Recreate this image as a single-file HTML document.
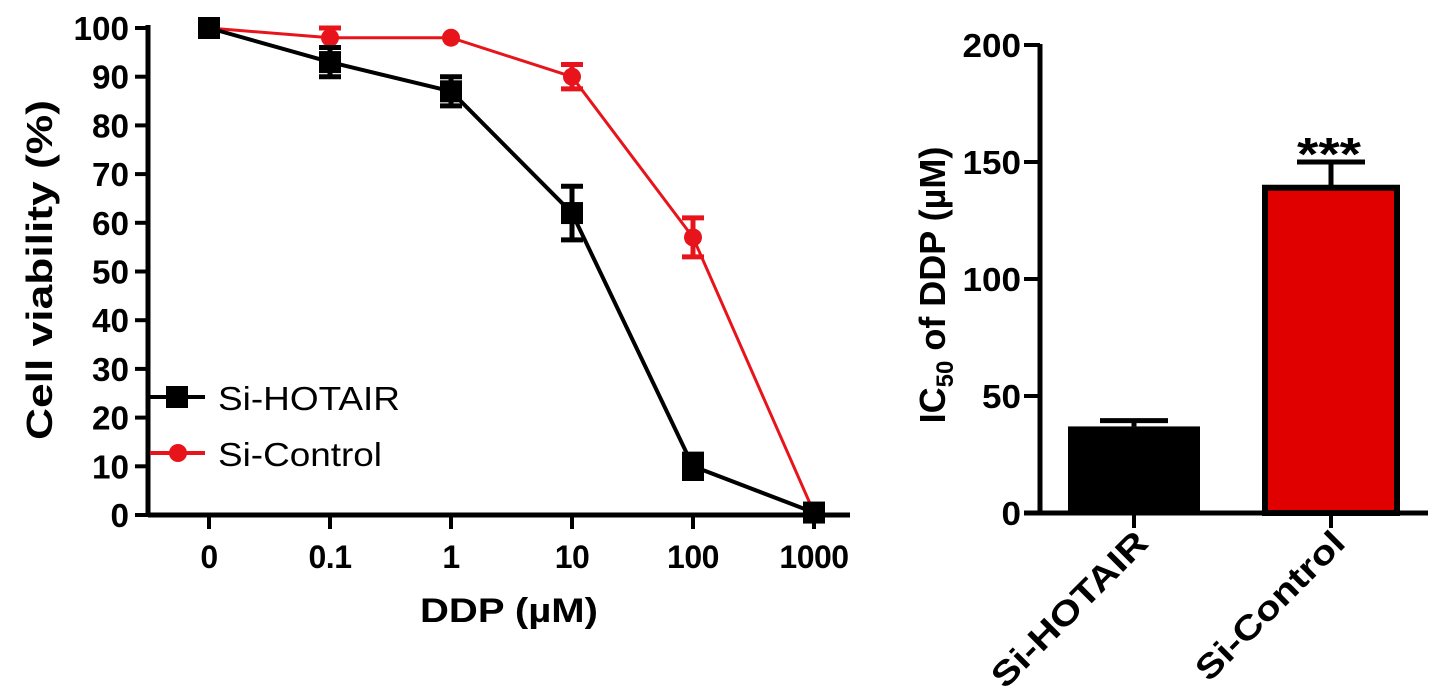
<!DOCTYPE html>
<html><head><meta charset="utf-8"><style>
html,body{margin:0;padding:0;background:#fff;}
svg{display:block;font-family:"Liberation Sans",Arial,sans-serif;}
</style></head><body>
<svg id="c" width="1441" height="698" viewBox="0 0 1441 698">
<g id="left"></g>
<g id="right"></g>
</svg>
<script>
const doseLabels = ["0","0.1","1","10","100","1000"];
const hotairVals = [100, 93, 87, 62, 10, 0.5];
const hotairErr = [0, 3, 3, 5.5, 2.5, 0];
const controlVals = [100, 98, 98, 90, 57, 0.5];
const controlErr = [0, 2, 0, 2.5, 4, 0];
const yTicksL = [0,10,20,30,40,50,60,70,80,90,100];
const barCats = ["Si-HOTAIR","Si-Control"];
const barVals = [37, 139];
const barErr = [2.5, 11];
const yTicksR = [0,50,100,150,200];

const NS="http://www.w3.org/2000/svg";
function mk(parent, tag, attrs, text){const e=document.createElementNS(NS,tag);for(const k in attrs)e.setAttribute(k,attrs[k]);if(text!==undefined)e.textContent=text;parent.appendChild(e);return e;}
const TL=(s,per)=>({textLength:s.length*per,lengthAdjust:'spacingAndGlyphs'});

// Left chart
const L=document.getElementById('left');
const yL=v=>515-v*4.87;
const xL=i=>209+i*121;
let e;
e=mk(L,'line',{x1:148,y1:515,x2:850,y2:515,stroke:'#000','stroke-width':5});


e=mk(L,'line',{x1:148,y1:25,x2:148,y2:517,stroke:'#000','stroke-width':5});


yTicksL.forEach(v=>{
  mk(L,'line',{x1:135,y1:yL(v),x2:148,y2:yL(v),stroke:'#000','stroke-width':4});
  e=mk(L,'text',Object.assign({x:129,y:yL(v)+12,'text-anchor':'end','font-size':33,'font-weight':'bold'},TL(String(v),18.5)),String(v));
  
  
});
doseLabels.forEach((t,i)=>{
  mk(L,'line',{x1:xL(i),y1:515,x2:xL(i),y2:529,stroke:'#000','stroke-width':4});
  e=mk(L,'text',{x:xL(i),y:568,'text-anchor':'middle','font-size':32,'font-weight':'bold','letter-spacing':'-0.5'},t);
  
  
});
e=mk(L,'text',{x:509,y:622,'text-anchor':'middle','font-size':34,'font-weight':'bold',textLength:178,lengthAdjust:'spacingAndGlyphs'},'DDP (µM)');


e=mk(L,'text',{x:0,y:0,'text-anchor':'middle','font-size':36,'font-weight':'bold',textLength:340,lengthAdjust:'spacingAndGlyphs',transform:'translate(52,270) rotate(-90)'},'Cell viability (%)');



function series(vals,errs,color,marker,name){
  const g=mk(L,'g',{});
  
  
  mk(g,'polyline',{points:vals.map((v,i)=>xL(i)+','+yL(v)).join(' '),fill:'none',stroke:color,'stroke-width':marker==='sq'?4:3});
  vals.forEach((v,i)=>{
    if(errs[i]>0){
      const t=yL(v+errs[i]),b=yL(v-errs[i]);
      mk(g,'line',{x1:xL(i),y1:t,x2:xL(i),y2:b,stroke:color,'stroke-width':5});
      mk(g,'line',{x1:xL(i)-11,y1:t,x2:xL(i)+11,y2:t,stroke:color,'stroke-width':5});
      mk(g,'line',{x1:xL(i)-11,y1:b,x2:xL(i)+11,y2:b,stroke:color,'stroke-width':5});
    }
    if(marker==='sq') mk(g,'rect',{x:xL(i)-11,y:yL(v)-11,width:22,height:22,fill:color});
    else mk(g,'circle',{cx:xL(i),cy:yL(v),r:9,fill:color});
  });
}
series(controlVals,controlErr,'#e8141c','ci','si-control-series');
series(hotairVals,hotairErr,'#000','sq','si-hotair-series');

// legend
e=mk(L,'g',{});


mk(e,'line',{x1:150,y1:397,x2:205,y2:397,stroke:'#000','stroke-width':4});
mk(e,'rect',{x:166,y:386,width:22,height:22,fill:'#000'});
mk(e,'text',{x:218,y:410,'font-size':33,textLength:182,lengthAdjust:'spacingAndGlyphs'},'Si-HOTAIR');
mk(e,'line',{x1:150,y1:453,x2:205,y2:453,stroke:'#e8141c','stroke-width':4});
mk(e,'circle',{cx:178,cy:453,r:9,fill:'#e8141c'});
mk(e,'text',{x:218,y:466,'font-size':33,textLength:164,lengthAdjust:'spacingAndGlyphs'},'Si-Control');

// Right chart
const R=document.getElementById('right');
const yR=v=>513-v*2.34;
const xC=[1134,1331];
e=mk(R,'line',{x1:1040,y1:44,x2:1040,y2:515,stroke:'#000','stroke-width':5});


e=mk(R,'line',{x1:1024,y1:513,x2:1428,y2:513,stroke:'#000','stroke-width':5});


yTicksR.forEach(v=>{
  mk(R,'line',{x1:1024,y1:yR(v),x2:1040,y2:yR(v),stroke:'#000','stroke-width':4});
  e=mk(R,'text',Object.assign({x:1021,y:yR(v)+12,'text-anchor':'end','font-size':33,'font-weight':'bold'},TL(String(v),19.5)),String(v));
  
  
});
const fills=['#000','#e00000'];
const lens=[205,195];
barCats.forEach((c,i)=>{
  const x=xC[i];
  mk(R,'line',{x1:x,y1:513,x2:x,y2:528,stroke:'#000','stroke-width':4});
  const et=yR(barVals[i]+barErr[i]);
  mk(R,'line',{x1:x,y1:et,x2:x,y2:yR(barVals[i]),stroke:'#000','stroke-width':5});
  mk(R,'line',{x1:x-34,y1:et,x2:x+34,y2:et,stroke:'#000','stroke-width':5});
  e=mk(R,'rect',{x:x-66,y:yR(barVals[i]),width:132,height:yR(0)-yR(barVals[i]),fill:fills[i],stroke:'#000','stroke-width':i?6:0});
  
  
  e=mk(R,'text',{x:0,y:0,'text-anchor':'end','font-size':34,'font-weight':'bold',textLength:lens[i],lengthAdjust:'spacingAndGlyphs',transform:'translate('+(x+16)+',545) rotate(-45)'},c);
  
  
});
e=mk(R,'text',{x:xC[1]-2,y:170,'text-anchor':'middle','font-size':46,'font-weight':'bold',textLength:64,lengthAdjust:'spacingAndGlyphs'},'***');


e=mk(R,'text',{x:0,y:0,'text-anchor':'middle','font-size':36,'font-weight':'bold',transform:'translate(945,285) rotate(-90)'});


e.innerHTML='IC<tspan font-size="24" dy="8">50</tspan><tspan dy="-8"> of DDP (µM)</tspan>';
</script>
</body></html>
